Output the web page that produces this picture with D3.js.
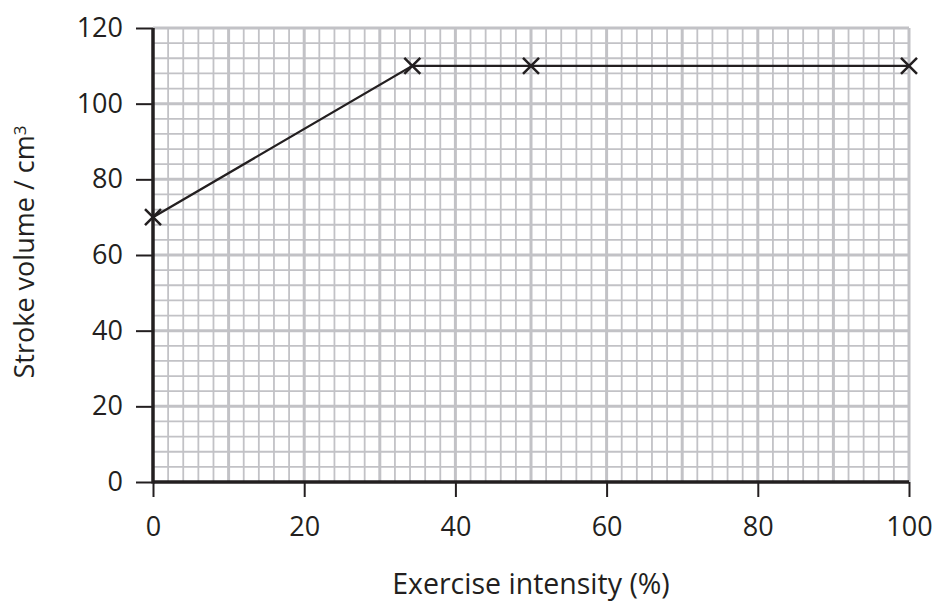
<!DOCTYPE html>
<html>
<head>
<meta charset="utf-8">
<script src="https://cdn.jsdelivr.net/npm/d3@7"></script>
<style>
  body { margin: 0; background: #fff; }
  svg text { font-family: "Open Sans", "DejaVu Sans", sans-serif; fill: #231f20; }
</style>
</head>
<body>
<div id="chart"></div>
<script>
// Stroke volume vs exercise intensity
const intensity = [0, 34.3, 50, 100];
const strokeVolume = [70, 110, 110, 110];
const xTicks = [0, 20, 40, 60, 80, 100];
const yTicks = [0, 20, 40, 60, 80, 100, 120];

const W = 934, H = 605;
const margin = { top: 28, right: 25, bottom: 123, left: 153 };
const width = W - margin.left - margin.right;
const height = H - margin.top - margin.bottom;

const svg = d3.select('#chart').append('svg')
    .attr('width', W)
    .attr('height', H);

const g = svg.append('g')
    .attr('transform', `translate(${margin.left},${margin.top})`);

const x = d3.scaleLinear().domain([0, 100]).range([0, width]);
const y = d3.scaleLinear().domain([0, 120]).range([height, 0]);

const gridColor = '#c2c2c6';

// minor grid
g.append('g').selectAll('line')
    .data(d3.range(0, 101, 2).filter(v => v % 10 !== 0))
    .enter().append('line')
    .attr('x1', d => x(d)).attr('x2', d => x(d))
    .attr('y1', 0).attr('y2', height)
    .attr('stroke', gridColor).attr('stroke-width', 1.8);

g.append('g').selectAll('line')
    .data(d3.range(0, 121, 4).filter(v => v % 20 !== 0))
    .enter().append('line')
    .attr('y1', d => y(d)).attr('y2', d => y(d))
    .attr('x1', 0).attr('x2', width)
    .attr('stroke', gridColor).attr('stroke-width', 1.8);

// major grid
g.append('g').selectAll('line')
    .data(d3.range(10, 101, 10))
    .enter().append('line')
    .attr('x1', d => x(d)).attr('x2', d => x(d))
    .attr('y1', 0).attr('y2', height)
    .attr('stroke', gridColor).attr('stroke-width', 3);

g.append('g').selectAll('line')
    .data(d3.range(20, 121, 20))
    .enter().append('line')
    .attr('y1', d => y(d)).attr('y2', d => y(d))
    .attr('x1', 0).attr('x2', width)
    .attr('stroke', gridColor).attr('stroke-width', 3);

// axes
const xAxis = g.append('g')
    .attr('transform', `translate(0,${height})`)
    .call(d3.axisBottom(x).tickValues(xTicks).tickSize(15).tickPadding(20));

const yAxis = g.append('g')
    .call(d3.axisLeft(y).tickValues(yTicks).tickSize(17).tickPadding(13));

[xAxis, yAxis].forEach(a => {
    a.select('.domain').remove();
    a.selectAll('line').attr('stroke', '#231f20').attr('stroke-width', 2);
    a.selectAll('text').style('font-size', '27px').attr('fill', '#231f20');
});

g.append('line')
    .attr('x1', 0).attr('x2', width)
    .attr('y1', height).attr('y2', height)
    .attr('stroke', '#231f20').attr('stroke-width', 3.5);

g.append('line')
    .attr('x1', 0).attr('x2', 0)
    .attr('y1', 0).attr('y2', height + 1.5)
    .attr('stroke', '#231f20').attr('stroke-width', 3.5);

// data line
const pts = intensity.map((v, i) => [v, strokeVolume[i]]);

g.append('path')
    .datum(pts)
    .attr('fill', 'none')
    .attr('stroke', '#231f20')
    .attr('stroke-width', 2.3)
    .attr('d', d3.line().x(d => x(d[0])).y(d => y(d[1])));

const s = 8;
g.append('g').selectAll('path')
    .data(pts)
    .enter().append('path')
    .attr('transform', d => `translate(${x(d[0])},${y(d[1])})`)
    .attr('d', `M${-s},${-s}L${s},${s}M${-s},${s}L${s},${-s}`)
    .attr('stroke', '#231f20')
    .attr('stroke-width', 2.5)
    .attr('fill', 'none');

// axis titles
svg.append('text')
    .attr('x', margin.left + width / 2)
    .attr('y', 594)
    .attr('text-anchor', 'middle')
    .style('font-size', '28.5px')
    .text('Exercise intensity (%)');

const yt = svg.append('text')
    .attr('transform', `translate(34,252) rotate(-90)`)
    .attr('text-anchor', 'middle')
    .style('font-size', '27px');
yt.append('tspan').text('Stroke volume / cm');
yt.append('tspan').attr('dy', '-0.5em').style('font-size', '17px').text('3');
</script>
</body>
</html>
